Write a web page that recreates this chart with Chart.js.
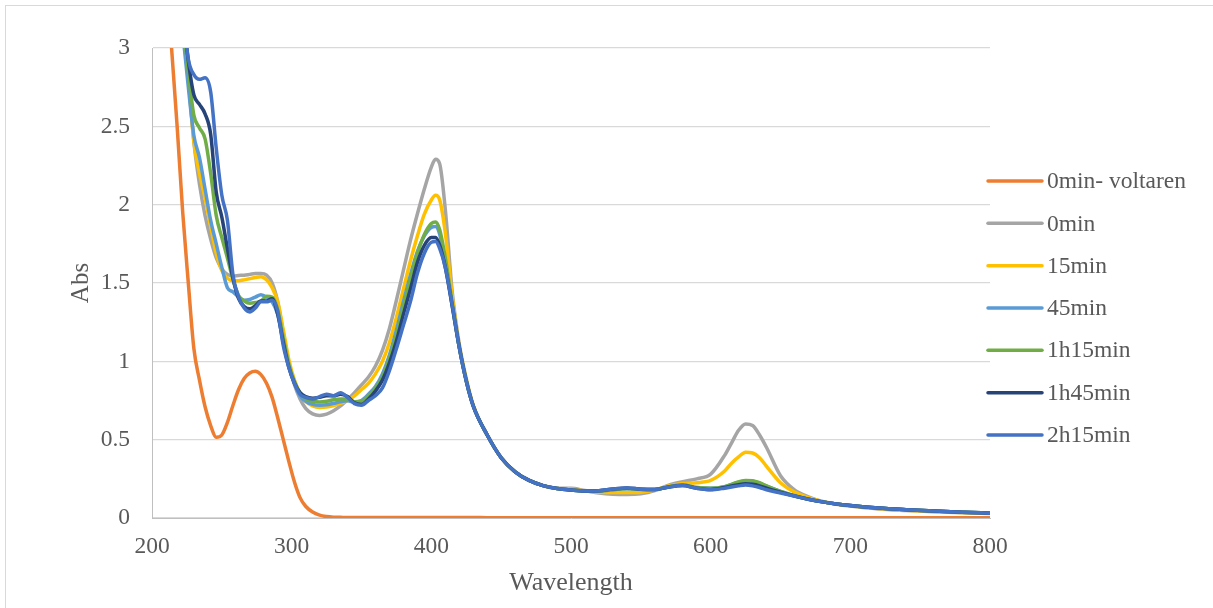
<!DOCTYPE html>
<html>
<head>
<meta charset="utf-8">
<script src="https://cdn.jsdelivr.net/npm/chart.js@4.4.1/dist/chart.umd.min.js"></script>
<style>
  html, body { margin: 0; padding: 0; background: #ffffff; }
  #wrap { width: 1213px; height: 608px; position: relative; }
</style>
</head>
<body>
<div id="wrap"><canvas id="c" width="1213" height="608"></canvas></div>
<script>
// Wavelength grid (nm)
const wavelengths = [210,214,218,222,226,230,234,238,242,246,250,254,258,
  262,266,270,274,278,282,286,290,
  294,298,302,306,310,
  315,320,325,330,335,340,
  345,350,355,360,365,370,375,380,385,390,395,400,
  403,406,410,415,420,425,430,
  440,450,460,470,480,490,500,510,520,530,540,550,560,570,580,590,600,610,
  615,620,625,630,635,640,
  650,660,670,680,690,700,
  720,740,760,780,800];

const seriesNames = ['0min- voltaren','0min','15min','45min','1h15min','1h45min','2h15min'];

const absVoltaren = [3.5,3.0,2.5,1.95,1.5,1.08,0.88,0.71,0.59,0.515,0.53,0.61,0.72,
  0.82,0.89,0.925,0.936,0.915,0.86,0.77,0.64,
  0.5,0.36,0.23,0.13,0.075,
  0.038,0.018,0.009,0.005,0.004,0.003,
  0.003,0.003,0.003,0.003,0.003,0.003,0.003,0.003,0.003,0.003,0.003,0.003,
  0.003,0.003,0.003,0.003,0.003,0.003,0.003,
  0.002,0.002,0.002,0.002,0.002,0.002,0.002,0.002,0.002,0.002,0.002,0.002,0.002,0.002,0.002,0.002,0.002,0.002,
  0.002,0.002,0.002,0.002,0.002,0.002,
  0.001,0.001,0.001,0.001,0.001,0.001,
  0.001,0.001,0.001,0.001,0.001];

const abs0min = [4.6,4.1,3.6,3.15,2.82,2.4,2.13,1.93,1.78,1.66,1.59,1.555,1.545,
  1.548,1.55,1.555,1.56,1.56,1.55,1.5,1.38,
  1.18,0.99,0.85,0.76,0.7,
  0.665,0.655,0.663,0.685,0.715,0.755,
  0.8,0.85,0.9,0.97,1.07,1.21,1.39,1.58,1.77,1.94,2.1,2.24,
  2.29,2.26,1.97,1.44,1.11,0.89,0.72,
  0.53,0.385,0.295,0.24,0.207,0.19,0.19,0.175,0.16,0.152,0.15,0.155,0.175,0.21,0.232,0.25,0.28,0.4,
  0.48,0.56,0.6,0.59,0.53,0.45,
  0.27,0.18,0.135,0.105,0.088,0.076,
  0.058,0.048,0.04,0.034,0.029];

const abs15min = [4.5,4.0,3.55,3.12,2.8,2.4,2.2,2.04,1.86,1.69,1.58,1.53,1.515,
  1.515,1.52,1.528,1.535,1.54,1.52,1.47,1.38,
  1.2,1.01,0.88,0.795,0.745,
  0.715,0.705,0.708,0.718,0.732,0.75,
  0.78,0.82,0.86,0.92,1.0,1.12,1.28,1.46,1.64,1.8,1.94,2.03,
  2.06,2.03,1.82,1.41,1.1,0.885,0.72,
  0.53,0.385,0.295,0.24,0.207,0.188,0.185,0.172,0.165,0.162,0.162,0.165,0.18,0.205,0.22,0.225,0.24,0.3,
  0.35,0.39,0.42,0.415,0.385,0.33,
  0.225,0.165,0.13,0.105,0.09,0.078,
  0.06,0.049,0.041,0.035,0.03];

const abs45min = [4.4,3.9,3.5,3.1,2.75,2.44,2.3,2.1,1.9,1.75,1.6,1.47,1.443,
  1.41,1.39,1.395,1.41,1.425,1.41,1.38,1.3,
  1.13,0.97,0.86,0.78,0.745,
  0.725,0.72,0.723,0.732,0.742,0.748,
  0.74,0.75,0.79,0.84,0.92,1.04,1.2,1.38,1.55,1.7,1.8,1.855,
  1.86,1.81,1.63,1.35,1.09,0.875,0.715,
  0.53,0.385,0.295,0.24,0.207,0.188,0.178,0.172,0.172,0.18,0.187,0.182,0.182,0.2,0.21,0.195,0.19,0.2,
  0.215,0.228,0.236,0.235,0.222,0.203,
  0.17,0.142,0.12,0.103,0.09,0.08,
  0.064,0.053,0.044,0.037,0.031];

const abs1h15 = [4.5,4.0,3.6,3.2,2.85,2.57,2.49,2.42,2.2,1.93,1.79,1.66,1.52,
  1.42,1.385,1.37,1.375,1.385,1.415,1.41,1.33,
  1.15,0.98,0.87,0.8,0.76,
  0.745,0.74,0.745,0.755,0.76,0.76,
  0.742,0.745,0.78,0.83,0.9,1.02,1.17,1.35,1.53,1.69,1.81,1.88,
  1.89,1.84,1.66,1.37,1.09,0.875,0.715,
  0.53,0.385,0.295,0.24,0.207,0.188,0.178,0.172,0.172,0.18,0.188,0.183,0.182,0.2,0.21,0.195,0.19,0.2,
  0.215,0.23,0.24,0.238,0.225,0.205,
  0.17,0.143,0.12,0.103,0.09,0.08,
  0.064,0.053,0.044,0.037,0.031];

const abs1h45 = [4.6,4.1,3.65,3.25,2.92,2.7,2.64,2.58,2.45,2.08,1.92,1.72,1.53,
  1.4,1.35,1.335,1.355,1.385,1.385,1.4,1.3,
  1.12,0.96,0.86,0.8,0.775,
  0.765,0.77,0.78,0.78,0.79,0.775,
  0.735,0.725,0.76,0.81,0.88,0.99,1.13,1.3,1.46,1.63,1.74,1.79,
  1.79,1.74,1.6,1.35,1.09,0.875,0.715,
  0.53,0.385,0.295,0.24,0.207,0.188,0.178,0.172,0.174,0.185,0.192,0.184,0.182,0.198,0.207,0.19,0.182,0.195,
  0.205,0.213,0.218,0.215,0.205,0.19,
  0.165,0.14,0.12,0.103,0.09,0.08,
  0.064,0.053,0.044,0.037,0.031];

const abs2h15 = [4.7,4.2,3.7,3.25,2.93,2.83,2.8,2.81,2.72,2.36,2.06,1.9,1.55,
  1.41,1.34,1.315,1.34,1.38,1.38,1.39,1.32,
  1.1,0.96,0.86,0.79,0.77,
  0.76,0.775,0.79,0.78,0.8,0.77,
  0.73,0.72,0.75,0.78,0.83,0.94,1.08,1.23,1.38,1.56,1.69,1.76,
  1.765,1.72,1.6,1.36,1.09,0.875,0.715,
  0.53,0.385,0.295,0.24,0.207,0.188,0.178,0.172,0.174,0.185,0.192,0.184,0.182,0.198,0.207,0.19,0.18,0.19,
  0.198,0.205,0.21,0.205,0.195,0.18,
  0.16,0.14,0.12,0.103,0.09,0.08,
  0.064,0.053,0.044,0.037,0.031];

const xTicks = [200, 300, 400, 500, 600, 700, 800];
const yTicks = [0, 0.5, 1, 1.5, 2, 2.5, 3];

const seriesValues = [absVoltaren, abs0min, abs15min, abs45min, abs1h15, abs1h45, abs2h15];
const seriesColors = ['#ED7D31','#A5A5A5','#FFC000','#5B9BD5','#70AD47','#264478','#4472C4'];

const FONT = "'Liberation Serif', 'Times New Roman', serif";
const TXT = '#595959';

const datasets = seriesNames.map((name, i) => ({
  label: name,
  data: wavelengths.map((w, j) => ({ x: w, y: seriesValues[i][j] })),
  borderColor: seriesColors[i],
  backgroundColor: seriesColors[i],
  borderWidth: 3.5,
  pointRadius: 0,
  pointHoverRadius: 0,
  fill: false,
  cubicInterpolationMode: 'monotone',
  order: seriesNames.length - 1 - i
}));

const frameAndLegend = {
  id: 'frameAndLegend',
  beforeDraw(chart) {
    const ctx = chart.ctx;
    ctx.save();
    ctx.strokeStyle = '#d9d9d9';
    ctx.lineWidth = 1;
    ctx.strokeRect(5.5, 5.5, 1400, 800);
    ctx.restore();
  },
  afterDraw(chart) {
    const ctx = chart.ctx;
    const area = chart.chartArea;
    ctx.save();
    ctx.font = "23.5px " + FONT;
    ctx.textBaseline = 'middle';
    ctx.textAlign = 'left';
    const x0 = area.right - 2;
    const top = 181, step = 42.33;
    chart.data.datasets.forEach((ds, i) => {
      const y = top + i * step;
      ctx.strokeStyle = ds.borderColor;
      ctx.lineWidth = 3.5;
      ctx.lineCap = 'round';
      ctx.beginPath();
      ctx.moveTo(x0, y);
      ctx.lineTo(x0 + 54, y);
      ctx.stroke();
      ctx.fillStyle = TXT;
      ctx.fillText(ds.label, x0 + 59, y + 1);
    });
    ctx.restore();
  }
};

new Chart(document.getElementById('c'), {
  type: 'line',
  data: { datasets },
  plugins: [frameAndLegend],
  options: {
    responsive: false,
    animation: false,
    events: [],
    layout: { padding: { left: 0, top: 48, right: 223, bottom: 0 } },
    plugins: { legend: { display: false }, tooltip: { enabled: false }, title: { display: false } },
    scales: {
      x: {
        type: 'linear',
        min: 200, max: 800,
        afterBuildTicks(scale) { scale.ticks = xTicks.map(v => ({ value: v })); },
        afterFit(scale) { scale.height = 90; },
        grid: { display: false, drawTicks: false },
        border: { display: true, color: '#bfbfbf', width: 1 },
        ticks: { padding: 15, color: TXT, font: { family: FONT, size: 23.5 }, maxRotation: 0,
                 callback: (v) => String(v) },
        title: { display: true, text: 'Wavelength', color: TXT, font: { family: FONT, size: 26 }, padding: { top: 0, bottom: 9 } }
      },
      y: {
        type: 'linear',
        min: 0, max: 3,
        afterBuildTicks(scale) { scale.ticks = yTicks.map(v => ({ value: v })); },
        afterFit(scale) { scale.width = 152; },
        grid: { color: '#d9d9d9', lineWidth: 1.2, drawTicks: false },
        border: { display: true, color: '#bfbfbf', width: 1 },
        ticks: { padding: 22, color: TXT, font: { family: FONT, size: 23.5 },
                 callback: (v) => String(v) },
        title: { display: true, text: 'Abs', color: TXT, font: { family: FONT, size: 25 }, padding: { top: 66, bottom: 0 } }
      }
    }
  }
});
</script>
</body>
</html>
